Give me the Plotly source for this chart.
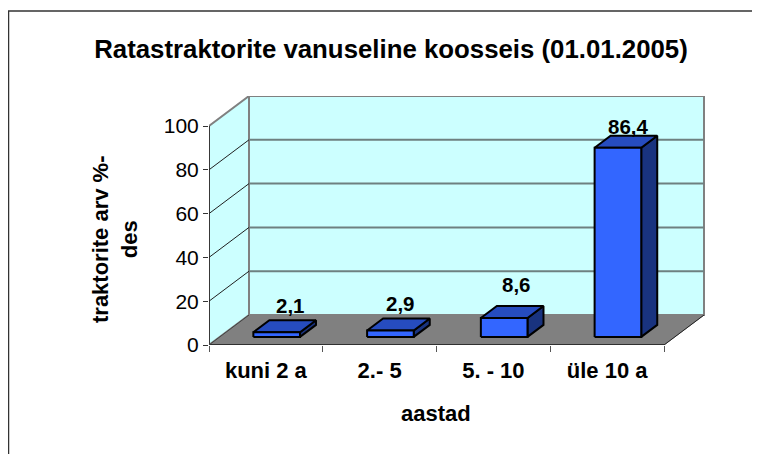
import plotly.graph_objects as go

categories = ["kuni 2 a", "2.- 5", "5. - 10", "üle 10 a"]
values = [2.1, 2.9, 8.6, 86.4]
y_ticks = [0, 20, 40, 60, 80, 100]
title = "Ratastraktorite vanuseline koosseis (01.01.2005)"
x_title = "aastad"
y_title = "traktorite arv %-<br>des"

# the page has an 8px body margin, so the figure is 752x446 and starts at (8, 8)
W, H = 752, 446
L, R, T, B = 201, 697, 88, 337
FRONT_W = 455.0
UX = FRONT_W / 4            # px per category
UY = 2.19                   # px per value unit
DX, DY = 40.0, 30.0         # px of full depth
XMAX = (R - L) / UX
YMAX = (B - T) / UY
BAR_W = 0.41
D0, D1 = 0.27, 0.67


def P(x, v, d=0.0):
    return x + d * DX / UX, v + d * DY / UY


def poly(pts, fill, line="black", lw=2):
    xs, ys = zip(*[P(*p) for p in pts + pts[:1]])
    return go.Scatter(x=xs, y=ys, mode="lines", fill="toself", fillcolor=fill,
                      line=dict(color=line, width=lw), hoverinfo="skip", showlegend=False)


def seg(a, b, color, lw):
    xs, ys = zip(P(*a), P(*b))
    return go.Scatter(x=xs, y=ys, mode="lines", line=dict(color=color, width=lw),
                      hoverinfo="skip", showlegend=False)


def paper_x(px):
    return (px - L) / (R - L)


def paper_y(py):
    return (B - py) / (B - T)


fig = go.Figure()
WALL = "#CCFFFF"
EDGE = "#808080"
n = len(categories)
# walls and floor
fig.add_trace(poly([(0, 0, 1), (n, 0, 1), (n, 100, 1), (0, 100, 1)], WALL, EDGE, 2))
fig.add_trace(poly([(0, 0, 0), (0, 0, 1), (0, 100, 1), (0, 100, 0)], WALL, EDGE, 2))
fig.add_trace(poly([(0, 0, 0), (n, 0, 0), (n, 0, 1), (0, 0, 1)], EDGE, EDGE, 1))
# gridlines
for t in y_ticks[1:-1]:
    fig.add_trace(seg((0, t, 1), (n, t, 1), "#6E8080", 2))
    fig.add_trace(seg((0, t, 0), (0, t, 1), "#202020", 1))
fig.add_trace(seg((0, 0, 0), (0, 100, 0), "#202020", 1.5))
fig.add_trace(seg((0, 0, 0), (n, 0, 0), "#303030", 2))
fig.add_trace(seg((0, 0, 0), (0, 0, 1), "#404040", 1))
fig.add_trace(seg((n, 0, 0), (n, 0, 1), "#202020", 1))
# bars
FRONT, TOP, SIDE = "#3366FF", "#264CBF", "#19337F"
for i, v in enumerate(values):
    a, b = i + 0.5 - BAR_W / 2, i + 0.5 + BAR_W / 2
    fig.add_trace(poly([(b, 0, D0), (b, 0, D1), (b, v, D1), (b, v, D0)], SIDE))
    fig.add_trace(poly([(a, v, D0), (b, v, D0), (b, v, D1), (a, v, D1)], TOP))
    fig.add_trace(poly([(a, 0, D0), (b, 0, D0), (b, v, D0), (a, v, D0)], FRONT))

# value labels
label_shift = [(0, 15), (-4, 15), (-2, 22), (-4, 9)]
for i, v in enumerate(values):
    x, y = P(i + 0.5, v, D1)
    dxs, dys = label_shift[i]
    fig.add_annotation(x=x - 2 / UX, y=y, text="<b>%s</b>" % str(v).replace(".", ","),
                       showarrow=False, xshift=dxs, yshift=dys, xanchor="center", yanchor="middle",
                       font=dict(size=20.5, color="black", family="Liberation Sans"))

# axis titles
fig.add_annotation(xref="paper", yref="paper", x=paper_x(428), y=paper_y(405),
                   text="<b>%s</b>" % x_title, showarrow=False, xanchor="center", yanchor="middle",
                   font=dict(size=22, color="black"))
fig.add_annotation(xref="paper", yref="paper", x=paper_x(107), y=paper_y(231),
                   text="<b>%s</b>" % y_title, showarrow=False, textangle=-90,
                   xanchor="center", yanchor="middle", font=dict(size=22, color="black"))

fig.update_layout(
    width=W, height=H, autosize=False,
    margin=dict(l=L, r=W - R, t=T, b=H - B, pad=0),
    paper_bgcolor="white", plot_bgcolor="white",
    font=dict(family="Liberation Sans", color="black"),
    title=dict(text="<b>%s</b>" % title, x=383 / W, xanchor="center", y=1 - 41 / H, yanchor="middle",
               font=dict(size=25.8, color="black")),
    xaxis=dict(range=[0, XMAX], showgrid=False, zeroline=False, showline=False,
               tickvals=[i + 0.5 for i in range(n)], ticktext=["<b>%s</b>" % c for c in categories],
               ticks="", ticklen=0, ticklabelstandoff=10, tickfont=dict(size=22),
               minor=dict(tickvals=list(range(n + 1)), ticks="outside", ticklen=6, tickcolor="#555555", tickwidth=1)),
    yaxis=dict(range=[0, YMAX], showgrid=False, zeroline=False, showline=False,
               tickvals=y_ticks, ticks="outside", ticklen=5, tickcolor="#333333", tickwidth=1,
               tickfont=dict(size=21)),
    shapes=[
        dict(type="rect", xref="paper", yref="paper", layer="below",
             x0=paper_x(0.5), x1=paper_x(W + 20), y0=paper_y(H + 20), y1=paper_y(3),
             line=dict(color="#333333", width=1.5), fillcolor="white"),
    ],
)
fig.write_html("out.html")
